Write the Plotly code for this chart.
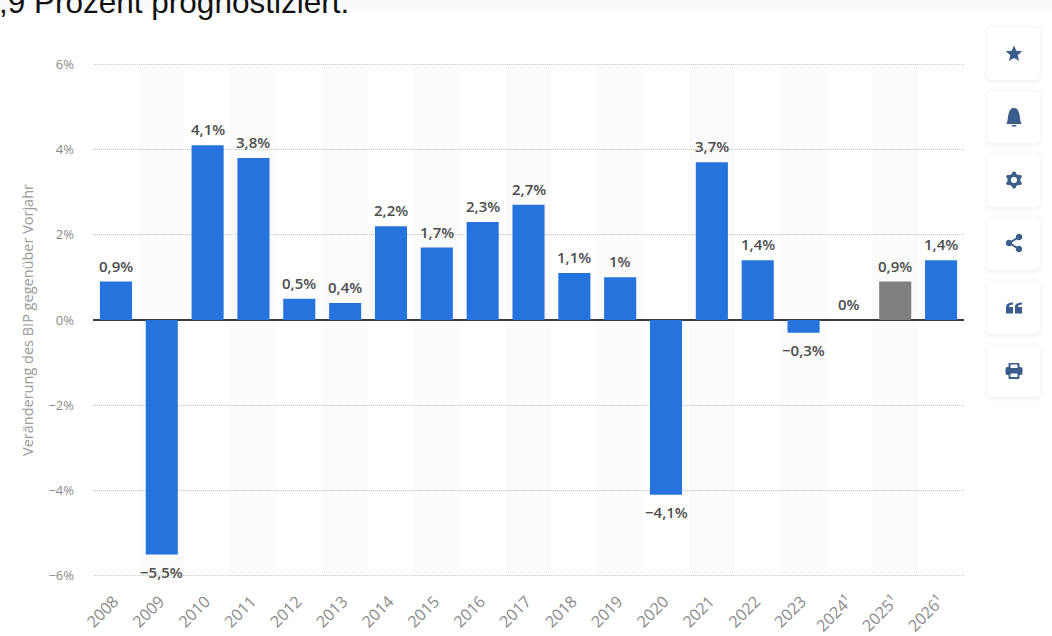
import math
import plotly.graph_objects as go

years = ["2008","2009","2010","2011","2012","2013","2014","2015","2016","2017","2018","2019","2020","2021","2022","2023","2024¹","2025¹","2026¹"]
growth = [0.9,-5.5,4.1,3.8,0.5,0.4,2.2,1.7,2.3,2.7,1.1,1.0,-4.1,3.7,1.4,-0.3,0.0,0.9,1.4]
labels = ["0,9%","−5,5%","4,1%","3,8%","0,5%","0,4%","2,2%","1,7%","2,3%","2,7%","1,1%","1%","−4,1%","3,7%","1,4%","−0,3%","0%","0,9%","1,4%"]
y_ticks = [-6,-4,-2,0,2,4,6]
y_tick_labels = ["−6%","−4%","−2%","0%","2%","4%","6%"]
highlight_year = "2025¹"
title_fragment = ",9 Prozent prognostiziert."
y_title = "Veränderung des BIP gegenüber Vorjahr"

W, H = 1052, 636
L, R, T, B = 93, 964, 62, 578
Y_PAD = 0.05
BLUE, GREY = "#2673dd", "#7f7f7f"
ICON = "#3c5d8c"
FONT = "Open Sans, DejaVu Sans, sans-serif"

fx = lambda x: (x - L) / (R - L)
fy = lambda y: (B - y) / (B - T)

def pth(items):
    out = []
    for cmd, *pts in items:
        out.append(cmd + " ".join(f"{fx(x):.5f},{fy(y):.5f}" for x, y in pts))
    return " ".join(out)

def round_rect(x0, y0, x1, y1, r):
    return pth([("M",(x0+r,y0)),("L",(x1-r,y0)),("Q",(x1,y0),(x1,y0+r)),("L",(x1,y1-r)),("Q",(x1,y1),(x1-r,y1)),
                ("L",(x0+r,y1)),("Q",(x0,y1),(x0,y1-r)),("L",(x0,y0+r)),("Q",(x0,y0),(x0+r,y0))]) + " Z"

def poly(pts):
    return pth([("M",pts[0])] + [("L",p) for p in pts[1:]]) + " Z"

def circle(cx, cy, r, n=28):
    return poly([(cx + r*math.cos(2*math.pi*i/n), cy + r*math.sin(2*math.pi*i/n)) for i in range(n)])

def shape(path, fill, layer="above"):
    return dict(type="path", path=path, xref="paper", yref="paper", fillcolor=fill, line=dict(width=0), layer=layer)

fig = go.Figure(go.Bar(
    x=years, y=growth, cliponaxis=False,
    marker=dict(color=[GREY if y == highlight_year else BLUE for y in years], line=dict(width=0)),
    width=0.7, hoverinfo="skip",
))

shapes = []
for i in range(1, len(years), 2):
    shapes.append(dict(type="rect", xref="x", yref="y", x0=i-0.5, x1=i+0.5, y0=y_ticks[0], y1=y_ticks[-1],
                       fillcolor="#fbfbfb", line=dict(width=0), layer="below"))
shapes.append(dict(type="rect", xref="paper", yref="paper", x0=fx(0), x1=fx(W), y0=fy(9), y1=fy(0),
                   fillcolor="#f8f9fb", line=dict(width=0), layer="below"))
buttons = [(27,80),(91,143),(154,207),(218,270),(281,334),(345,397)]
for y0, y1 in buttons:
    for d, c in [(4,"#fcfcfd"),(2,"#f9f9fa"),(1,"#f5f6f7")]:
        shapes.append(shape(round_rect(987-d, y0-d+1, 1040+d, y1+d+1, 6+d), c))
    shapes.append(shape(round_rect(987, y0, 1040, y1, 6), "#ffffff"))

cx = 1014
cy = 54
star = []
for i in range(10):
    r = 8.6 if i % 2 == 0 else 3.9
    a = -math.pi/2 + i*math.pi/5
    star.append((cx + r*math.cos(a), cy + r*math.sin(a)))
shapes.append(shape(poly(star), ICON))
cy = 117
shapes.append(shape(pth([("M",(cx-7.5,cy+7)),("C",(cx-5,cy+2),(cx-7,cy-9),(cx,cy-9)),("C",(cx+7,cy-9),(cx+5,cy+2),(cx+7.5,cy+7))]) + " Z", ICON))
shapes.append(shape(round_rect(cx-2.5, cy+8, cx+2.5, cy+9.5, 0.7), ICON))
cy = 180
shapes.append(shape(circle(cx, cy, 6.5), ICON))
for k in range(6):
    a = k*math.pi/3 + math.pi/6
    shapes.append(shape(circle(cx + 6.5*math.cos(a), cy + 6.5*math.sin(a), 2.1, 12), ICON))
shapes.append(shape(circle(cx, cy, 3.1), "#ffffff"))
cy = 243
nodes = [(cx+5,cy-6),(cx-5,cy),(cx+5,cy+6)]
for (x0,y0),(x1,y1) in [(nodes[0],nodes[1]),(nodes[1],nodes[2])]:
    shapes.append(dict(type="line", xref="paper", yref="paper", x0=fx(x0), y0=fy(y0), x1=fx(x1), y1=fy(y1),
                       line=dict(color=ICON, width=2), layer="above"))
for n in nodes:
    shapes.append(shape(circle(n[0], n[1], 3.2, 16), ICON))
cy = 308
for dx in (-8, 1):
    shapes.append(shape(pth([("M",(cx+dx,cy-1)),("Q",(cx+dx,cy-5.5),(cx+dx+7,cy-5.5)),("L",(cx+dx+7,cy-3.5)),("Q",(cx+dx+3,cy-3.5),(cx+dx+3,cy-1)),
                             ("L",(cx+dx+7,cy-1)),("L",(cx+dx+7,cy+5.5)),("L",(cx+dx,cy+5.5))]) + " Z", ICON))
cy = 371
shapes.append(shape(round_rect(cx-5.5, cy-8, cx+5.5, cy-2, 1), ICON))
shapes.append(shape(round_rect(cx-8.5, cy-4, cx+8.5, cy+4, 2), ICON))
shapes.append(shape(round_rect(cx-5.5, cy+1, cx+5.5, cy+8, 1), ICON))
shapes.append(shape(round_rect(cx-3.5, cy+2.5, cx+3.5, cy+6, 0.5), "#ffffff"))
shapes.append(shape(round_rect(cx-3.5, cy-6.5, cx+3.5, cy-3, 0.5), "#ffffff"))

annotations = [
    dict(text=title_fragment, xref="paper", yref="paper", x=fx(-3), y=fy(22), xanchor="left", yanchor="bottom",
         showarrow=False, font=dict(family="Liberation Sans, Arial, sans-serif", size=31.5, color="#111111")),
    dict(text=y_title, xref="paper", yref="paper", x=fx(27), y=fy(320), textangle=-90, xanchor="center", yanchor="middle",
         showarrow=False, font=dict(family=FONT, size=14.5, color="#999999")),
]
for i, (v, lab) in enumerate(zip(growth, labels)):
    annotations.append(dict(text=lab, x=i, y=v, xref="x", yref="y", showarrow=False,
                            xanchor="center", yanchor="top" if v < 0 else "bottom",
                            yshift=-5 if v < 0 else 4,
                            font=dict(family=FONT, size=15, color="#4d4d4d", weight=600)))

fig.update_layout(
    width=W, height=H, autosize=False,
    margin=dict(l=L, r=W-R, t=T, b=H-B, pad=0),
    paper_bgcolor="#ffffff", plot_bgcolor="rgba(0,0,0,0)",
    showlegend=False, shapes=shapes, bargap=0.3, annotations=annotations,
    xaxis=dict(type="category", categoryorder="array", categoryarray=years, range=[-0.5, len(years)-0.5],
               tickangle=-45, showgrid=False, zeroline=False, ticks="", ticklabelstandoff=10, ticklabelshift=-2,
               tickfont=dict(family=FONT, size=16, color="#8a8a8a"), automargin=False),
    yaxis=dict(range=[y_ticks[0]-Y_PAD, y_ticks[-1]+Y_PAD], tickvals=y_ticks, ticktext=y_tick_labels, showline=False,
               showgrid=True, gridcolor="#c8c8c8", griddash="1px,1px", gridwidth=1,
               zeroline=True, zerolinecolor="#3a3a3a", zerolinewidth=2,
               ticks="", ticklabelstandoff=18, automargin=False,
               tickfont=dict(family=FONT, size=13, color="#8a8a8a")),
)
fig.write_html("out.html", config=dict(displayModeBar=False), post_script="document.body.style.margin='0';document.body.style.overflow='hidden';")
